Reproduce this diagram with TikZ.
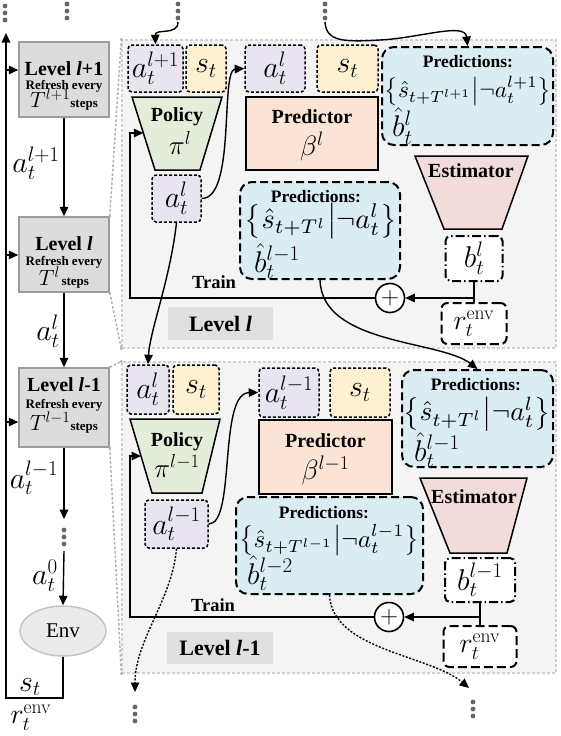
\RequirePackage{fix-cm}
\documentclass[tikz,border=0pt]{standalone}
\usepackage{amsmath}
\usepackage[no-math]{fontspec}
\setmainfont{Liberation Serif}
\usepackage{graphicx}
\usetikzlibrary{arrows.meta,shapes.geometric}
\newcommand{\myfs}[1]{\fontsize{#1}{#1}\selectfont}
\definecolor{lav}{HTML}{E8E5F0}
\definecolor{yel}{HTML}{FDF1D2}
\definecolor{grn}{HTML}{E3EDD9}
\definecolor{pch}{HTML}{FBE4D5}
\definecolor{blu}{HTML}{DAEDF3}
\definecolor{pnk}{HTML}{F2DCDB}
\definecolor{lvg}{HTML}{DCDCDC}
\definecolor{lvb}{HTML}{9C9C9C}
\definecolor{pnf}{HTML}{F4F4F4}
\definecolor{pnb}{HTML}{CBD1D4}
\definecolor{cnc}{HTML}{A6B2B6}
\definecolor{dotc}{HTML}{666666}
\definecolor{envf}{HTML}{EBEBEB}
\definecolor{envb}{HTML}{C4C4C4}
\definecolor{lbl}{HTML}{E0E0E0}
\tikzset{
  mybox/.style={draw, rectangle, inner sep=0pt, line width=1.5pt, font=\myfs{30}},
  dotbox/.style={mybox, rounded corners=4pt, dash pattern=on 3pt off 2pt},
  predbox/.style={draw, rectangle, inner sep=0pt, rounded corners=12pt, line width=2pt, dash pattern=on 8pt off 4pt, fill=blu},
  bbox/.style={mybox, fill=white, rounded corners=5pt, line width=2pt, dash pattern=on 9pt off 3pt on 1.5pt off 3pt},
  rbox/.style={mybox, fill=white, rounded corners=6pt, line width=2pt, dash pattern=on 9pt off 4pt, font=\myfs{28}},
  predictor/.style={draw, rectangle, inner sep=0pt, line width=2.4pt, fill=pch},
  trap/.style={draw, line width=1.5pt, line join=miter},
  lvlbox/.style={draw=lvb, fill=lvg, rectangle, line width=1.5pt, inner sep=0pt},
  panel/.style={draw=pnb, fill=pnf, rectangle, line width=1.3pt, dash pattern=on 3pt off 2pt, inner sep=0pt},
  conn/.style={draw=cnc, line width=1.5pt, dash pattern=on 2.5pt off 2pt},
  arr/.style={line width=1.4pt, -{Triangle[length=9.5pt,width=8.5pt]}},
  dotarr/.style={arr, dash pattern=on 2pt off 1.6pt},
  bt/.style={font=\bfseries\myfs{20}, inner sep=0pt},
  pt/.style={font=\bfseries\myfs{17.5}, inner sep=0pt},
  sml/.style={font=\bfseries\myfs{13}, inner sep=0pt},
  trn/.style={font=\bfseries\myfs{18.5}, inner sep=0pt},
  mth/.style={font=\myfs{30}, inner sep=0pt},
  plus/.style={draw, circle, fill=white, line width=1.6pt, minimum size=29pt, inner sep=0pt, font=\myfs{25}},
  lvlabel/.style={fill=lbl, rectangle, inner sep=0pt, font=\bfseries\myfs{22}},
  envst/.style={draw=envb, fill=envf, ellipse, line width=1.5pt, inner sep=0pt, minimum width=86pt, minimum height=50pt, font=\myfs{21}}
}
\newcommand{\dotsat}[2]{\foreach \k in {0,1,2} {\fill[dotc] (#1,#2+7*\k) circle (2.4pt);}}
\begin{document}
\begin{tikzpicture}[x=1pt,y=-1pt]
\useasboundingbox (0,0) rectangle (560,736);

% ---------- panels ----------
\node[panel, minimum width=434pt, minimum height=308pt] (pU) at (339,194) {};
\node[panel, minimum width=434pt, minimum height=311pt] (pL) at (339,517.5) {};

% ---------- left column ----------
\node[lvlbox, minimum width=90pt, minimum height=75pt] (L1) at (64,79.5) {};
\node[lvlbox, minimum width=90pt, minimum height=75pt] (L2) at (64,254.5) {};
\node[lvlbox, minimum width=90pt, minimum height=79pt] (L3) at (64,407.5) {};

\node[bt, anchor=base] (L1a) at (64,75) {Level \textit{l}+1};
\node[sml, anchor=base] (L1b) at (64,89) {Refresh every};
\node[inner sep=0pt, anchor=base] (L1c) at (64,107) {{\myfs{22}$T^{l+1}$}{\bfseries\myfs{13}steps}};
\node[bt, anchor=base] (L2a) at (64,250) {Level \textit{l}};
\node[sml, anchor=base] (L2b) at (64,265) {Refresh every};
\node[inner sep=0pt, anchor=base] (L2c) at (64,285) {{\myfs{22}$T^{l}$}\,{\bfseries\myfs{13}steps}};
\node[bt, anchor=base] (L3a) at (64,391) {Level \textit{l}-1};
\node[sml, anchor=base] (L3b) at (64,408) {Refresh every};
\node[inner sep=0pt, anchor=base] (L3c) at (64,430) {{\myfs{22}$T^{l-1}$}{\bfseries\myfs{13}steps}};

\node[envst] (env) at (63,631) {Env};

% gray links from level boxes to panels
\draw[conn] (L2.north east) -- (pU.north west);
\draw[conn] (L2.south east) -- (pU.south west);
\draw[conn] (L3.north east) -- (pL.north west);
\draw[conn] (L3.south east) -- (pL.south west);
\foreach \p in {L2.north east, L2.south east, L3.north east, L3.south east, pU.north west, pU.south west, pL.north west, pL.south west}
  {\fill[cnc] (\p) circle (1.5pt);}

% loop
\coordinate (lpTop) at (6,33);
\coordinate (lpBot) at (6,698);
\draw[arr] (env.south) |- (lpBot) -- (lpTop);
\coordinate (j1) at (6,70);
\coordinate (j2) at (6,255);
\coordinate (j3) at (6,422);
\draw[arr] (j1) -- (j1 -| L1.west);
\draw[arr] (j2) -- (j2 -| L2.west);
\draw[arr] (j3) -- (j3 -| L3.west);
\draw[arr] (L1.south) -- (L2.north);
\draw[arr] (L2.south) -- (L3.north);
\coordinate (dm1) at (64,519);
\coordinate (dm2) at (64,551);
\draw[arr] (L3.south) -- (dm1);
\draw[arr] (dm2) -- (env.north);
\dotsat{64}{530}

\node[mth] (lbA) at (36,163) {$a_t^{l+1}$};
\node[mth] (lbB) at (48,331) {$a_t^{l}$};
\node[mth] (lbC) at (34,478) {$a_t^{l-1}$};
\node[mth] (lbD) at (45,576) {$a_t^{0}$};
\node[mth] (lbS) at (30,687) {$s_t$};
\node[mth, font=\myfs{28}] (lbR) at (31,718) {$r_t^{\mathrm{env}}$};

% top dots
\dotsat{5}{6}
\dotsat{67}{4}
\dotsat{178}{4}
\dotsat{325}{4}
\coordinate (dT3) at (178,22);
\coordinate (dT4) at (325,22);

% ---------- upper panel (Level l) ----------
\node[dotbox, fill=lav, minimum width=55pt, minimum height=47pt] (aU) at (155.5,68.5) {$a_t^{l+1}$};
\node[dotbox, fill=yel, minimum width=40pt, minimum height=47pt] (sU) at (206,68.5) {$s_t$};
\draw[trap, fill=grn] (132,97) -- (222,97) -- (200,170) -- (155,170) -- cycle;
\coordinate (polUin) at (143.3,133);
\node[bt] (polU) at (177,117) {Policy};
\node[mth, font=\myfs{27}] (piU) at (180,143) {$\pi^{l}$};
\node[dotbox, fill=lav, minimum width=49pt, minimum height=47pt] (alU2) at (176.5,198.5) {$a_t^{l}$};
\node[dotbox, fill=lav, minimum width=60pt, minimum height=47pt] (alU1) at (275,68.5) {$a_t^{l}$};
\node[dotbox, fill=yel, minimum width=61pt, minimum height=47pt] (sU2) at (347.5,68.5) {$s_t$};
\node[predictor, minimum width=132pt, minimum height=73pt] (prU) at (312,133.5) {};
\node[bt] (prUt) at (312,117) {Predictor};
\node[mth, font=\myfs{28}] (betaU) at (312,146) {$\beta^{l}$};

\node[predbox, minimum width=171pt, minimum height=98pt] (U1) at (467.5,96) {};
\node[pt] (U1a) at (468,62) {Predictions:};
\node[inner sep=0pt] (U1b) at (468,91) {\resizebox{167pt}{!}{$\left\{\hat{s}_{t+T^{l+1}}\middle|\neg a_t^{l+1}\right\}$}};
\node[mth, anchor=west] (U1c) at (392,126) {$\hat{b}_t^{l}$};

\draw[trap, fill=pnk] (415,156) -- (528,156) -- (502,229) -- (444,229) -- cycle;
\node[bt] (estU) at (471,171) {Estimator};
\node[bbox, minimum width=57pt, minimum height=45pt] (bU) at (474,258.5) {$b_t^{l}$};
\node[rbox, minimum width=65pt, minimum height=41pt] (rU) at (474,323.5) {$r_t^{\mathrm{env}}$};
\node[plus] (plU) at (390,298) {$+$};

\node[predbox, minimum width=160pt, minimum height=97pt] (U2) at (320,230.5) {};
\node[pt] (U2a) at (316,197) {Predictions:};
\node[inner sep=0pt] (U2b) at (321,221) {\resizebox{152pt}{!}{$\left\{\hat{s}_{t+T^{l}}\middle|\neg a_t^{l}\right\}$}};
\node[mth, anchor=west] (U2c) at (254,261) {$\hat{b}_t^{l-1}$};

\node[trn] (trU) at (214,282) {Train};
\node[lvlabel, minimum width=105pt, minimum height=33pt] (lvU) at (220.5,323.5) {Level \textit{l}};

% upper connectors
\coordinate (trUc) at (130,298);
\draw[arr] (plU.west) -- (trUc) |- (polUin);
\coordinate (jU) at (bU.south |- plU.east);
\draw[arr] (bU.south) -- (jU) -- (plU.east);
\draw[line width=1.4pt] (rU.north) -- (jU);
\draw[arr] (alU2.east) .. controls (236,198.5) and (220,70) .. (alU1.west);
\draw[arr] (dT3) .. controls (178,36) and (155,28) .. (aU.north);
\draw[arr] (dT4) .. controls (326,42) and (345,42) .. (380,40) .. controls (420,38) and (465,22) .. (U1.north);

% ---------- lower panel (Level l-1) ----------
\node[dotbox, fill=lav, minimum width=42pt, minimum height=49pt] (laL) at (148,389.5) {$a_t^{l}$};
\node[dotbox, fill=yel, minimum width=46pt, minimum height=49pt] (sL) at (196,389.5) {$s_t$};
\draw[trap, fill=grn] (130,419) -- (220,419) -- (202,493) -- (152,493) -- cycle;
\coordinate (polLin) at (141,456);
\node[bt] (polL) at (177,442) {Policy};
\node[mth, font=\myfs{27}] (piL) at (177,466) {$\pi^{l-1}$};
\node[dotbox, fill=lav, minimum width=63pt, minimum height=48pt] (laL2) at (176.5,524) {$a_t^{l-1}$};
\node[dotbox, fill=lav, minimum width=60pt, minimum height=49pt] (laL1) at (289,392.5) {$a_t^{l-1}$};
\node[dotbox, fill=yel, minimum width=60pt, minimum height=49pt] (sL2) at (360,392.5) {$s_t$};
\node[predictor, minimum width=133pt, minimum height=74pt] (prL) at (325.5,457) {};
\node[bt] (prLt) at (325.5,441) {Predictor};
\node[mth, font=\myfs{28}] (betaL) at (325.5,470) {$\beta^{l-1}$};

\node[predbox, minimum width=151pt, minimum height=97pt] (L1p) at (477.5,418.5) {};
\node[pt] (L1a2) at (476,385) {Predictions:};
\node[inner sep=0pt] (L1b2) at (477,414) {\resizebox{147pt}{!}{$\left\{\hat{s}_{t+T^{l}}\middle|\neg a_t^{l}\right\}$}};
\node[mth, anchor=west] (L1c2) at (414,450) {$\hat{b}_t^{l-1}$};

\draw[trap, fill=pnk] (420,478) -- (527,478) -- (507,553) -- (450,553) -- cycle;
\node[bt] (estL) at (474,497) {Estimator};
\node[bbox, minimum width=70pt, minimum height=44pt] (bL) at (480,580) {$b_t^{l-1}$};
\node[rbox, minimum width=73pt, minimum height=41pt] (rL) at (480,646.5) {$r_t^{\mathrm{env}}$};
\node[plus] (plL) at (389,617) {$+$};

\node[predbox, minimum width=187pt, minimum height=97pt] (L2p) at (329.5,545.5) {};
\node[pt] (L2a2) at (324,513) {Predictions:};
\node[inner sep=0pt] (L2b2) at (329,540) {\resizebox{180pt}{!}{$\left\{\hat{s}_{t+T^{l-1}}\middle|\neg a_t^{l-1}\right\}$}};
\node[mth, anchor=west] (L2c2) at (247,573) {$\hat{b}_t^{l-2}$};

\node[trn] (trL) at (213,605) {Train};
\node[lvlabel, minimum width=106pt, minimum height=32pt] (lvL) at (220,648) {Level \textit{l}-1};

% lower connectors
\coordinate (trLc) at (130,617);
\draw[arr] (plL.west) -- (trLc) |- (polLin);
\coordinate (jL) at (bL.south |- plL.east);
\draw[arr] (bL.south) -- (jL) -- (plL.east);
\draw[line width=1.4pt] (rL.north) -- (jL);
\draw[arr] (laL2.east) .. controls (236,524) and (218,393) .. (laL1.west);

% between panels
\draw[arr] (alU2.south) .. controls (170,280) and (150,330) .. (laL.north);
\draw[arr] (U2.south) .. controls (322,345) and (440,340) .. (L1p.north);

% bottom dotted arrows
\coordinate (dB1) at (135,692);
\coordinate (dB2) at (469,688);
\draw[dotarr] (laL2.south) .. controls (172,600) and (135,640) .. (dB1);
\draw[dotarr] (L2p.south) .. controls (332,650) and (430,655) .. (dB2);
\dotsat{135}{707}
\dotsat{473}{702}
\end{tikzpicture}
\end{document}
